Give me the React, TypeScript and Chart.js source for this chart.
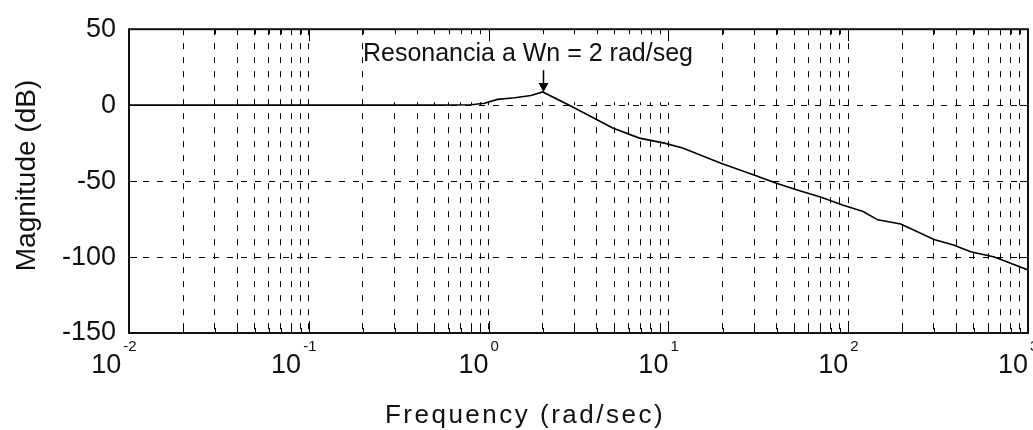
import { useEffect, useRef } from 'react';
import { Chart, registerables } from 'chart.js';

Chart.register(...registerables);

// ---- data ----
const frequencies = [0.01, 0.1, 0.5, 0.8, 0.95, 1.12, 1.4, 1.72, 2.0, 2.9, 4.9, 6.9, 9.5, 12, 19.6, 31, 39.5, 51, 70.8, 93, 121, 146, 196, 300, 385, 480, 650, 1000];
const magnitudes = [0, 0, 0, 0.3, 1.2, 3.8, 4.9, 6.4, 8.7, -0.9, -15, -21.7, -25, -28.2, -38.2, -46.6, -51.2, -55.6, -60.7, -65.7, -70, -75.5, -78.2, -88.5, -92, -96.5, -100, -108.5];

const decadeExponents = [-2, -1, 0, 1, 2, 3];
const minorMultipliers = [2, 3, 4, 5, 6, 7, 8, 9];
const yTickValues = [50, 0, -50, -100, -150];

const xAxisTitle = 'Frequency (rad/sec)';
const yAxisTitle = 'Magnitude (dB)';

const annotationText = 'Resonancia a Wn = 2 rad/seg';
const annotationFreq = 0.2;
const annotationDb = 29;
const resonanceFreq = 2;
const resonanceDb = 8.7;
const arrowTopDb = 23;

const FONT = '"Liberation Sans", Arial, sans-serif';
const TEXT = '#111';

const decadeValues = decadeExponents.map((e) => 10 ** e);
const xGridValues: number[] = [];
decadeExponents.forEach((e, i) => {
  xGridValues.push(10 ** e);
  if (i < decadeExponents.length - 1) minorMultipliers.forEach((m) => xGridValues.push(m * 10 ** e));
});

const overlay = {
  id: 'overlay',
  beforeDatasetsDraw(chart: any) {
    // blank label area behind the annotation (covers grid, not the curve)
    const { ctx, chartArea: a, scales } = chart;
    const x = scales.x;
    const y = scales.y;
    ctx.save();
    ctx.font = `25px ${FONT}`;
    const left = x.getPixelForValue(annotationFreq) + 1;
    const w = ctx.measureText(annotationText).width;
    ctx.fillStyle = '#fff';
    ctx.fillRect(left, a.top + 1, w + 18, y.getPixelForValue(0) - 3 - (a.top + 1));
    ctx.restore();
  },
  afterDraw(chart: any) {
    const { ctx, chartArea: a, scales } = chart;
    const x = scales.x;
    const y = scales.y;
    ctx.save();
    ctx.setLineDash([]);

    // inward ticks
    ctx.strokeStyle = '#000';
    ctx.lineWidth = 1;
    ctx.beginPath();
    for (const v of xGridValues) {
      const px = Math.round(x.getPixelForValue(v)) + 0.5;
      const major = decadeValues.some((d) => Math.abs(d - v) < 1e-9);
      const len = major ? 12 : 5;
      ctx.moveTo(px, a.bottom);
      ctx.lineTo(px, a.bottom - len);
      ctx.moveTo(px, a.top);
      ctx.lineTo(px, a.top + len);
    }
    for (const v of yTickValues) {
      const py = Math.round(y.getPixelForValue(v)) + 0.5;
      ctx.moveTo(a.left, py);
      ctx.lineTo(a.left + 8, py);
      ctx.moveTo(a.right, py);
      ctx.lineTo(a.right - 8, py);
    }
    ctx.stroke();

    // box
    ctx.lineWidth = 2;
    ctx.strokeStyle = '#111';
    ctx.strokeRect(a.left, a.top, a.right - a.left, a.bottom - a.top);

    // x tick labels: 10 with exponent
    ctx.fillStyle = TEXT;
    ctx.textBaseline = 'alphabetic';
    for (const e of decadeExponents) {
      const px = x.getPixelForValue(10 ** e);
      const expStr = e < 0 ? '-' + Math.abs(e) : String(e);
      ctx.font = `15px ${FONT}`;
      const ew = ctx.measureText(expStr).width;
      const expLeft = e < 0 ? px + 1 - ew / 2 : px + 2;
      ctx.textAlign = 'left';
      ctx.fillText(expStr, expLeft, a.bottom + 18);
      ctx.font = `27px ${FONT}`;
      ctx.textAlign = 'right';
      ctx.fillText('10', expLeft - 2, a.bottom + 40);
    }

    // x axis title
    ctx.font = `26px ${FONT}`;
    (ctx as any).letterSpacing = '2.5px';
    ctx.textAlign = 'center';
    ctx.fillText(xAxisTitle, 525, 423);
    (ctx as any).letterSpacing = '0px';

    // y axis title
    ctx.save();
    ctx.translate(27, 175.5);
    ctx.rotate(-Math.PI / 2);
    ctx.font = `28px ${FONT}`;
    ctx.textAlign = 'center';
    ctx.textBaseline = 'middle';
    ctx.fillText(yAxisTitle, 0, 0);
    ctx.restore();

    // annotation text
    ctx.font = `25px ${FONT}`;
    ctx.textAlign = 'left';
    ctx.textBaseline = 'alphabetic';
    ctx.fillText(annotationText, x.getPixelForValue(annotationFreq), y.getPixelForValue(annotationDb));

    // arrow
    const ax = Math.round(x.getPixelForValue(resonanceFreq)) + 0.5;
    const tip = y.getPixelForValue(resonanceDb);
    const top = y.getPixelForValue(arrowTopDb);
    ctx.strokeStyle = '#000';
    ctx.lineWidth = 1.5;
    ctx.beginPath();
    ctx.moveTo(ax, top);
    ctx.lineTo(ax, tip - 6);
    ctx.stroke();
    ctx.fillStyle = '#000';
    ctx.beginPath();
    ctx.moveTo(ax, tip);
    ctx.lineTo(ax - 5, tip - 9);
    ctx.lineTo(ax + 5, tip - 9);
    ctx.closePath();
    ctx.fill();

    ctx.restore();
  },
};

export default function App() {
  const ref = useRef<HTMLCanvasElement | null>(null);

  useEffect(() => {
    if (!ref.current) return;
    const chart = new Chart(ref.current, {
      type: 'line',
      data: {
        datasets: [
          {
            data: frequencies.map((f, i) => ({ x: f, y: magnitudes[i] })),
            borderColor: '#000',
            borderWidth: 1.6,
            pointRadius: 0,
            tension: 0,
            fill: false,
          },
        ],
      },
      options: {
        animation: false,
        responsive: false,
        devicePixelRatio: 1,
        layout: { padding: { top: 25, right: 5, left: 0, bottom: 0 } },
        plugins: {
          legend: { display: false },
          tooltip: { enabled: false },
          title: { display: false },
        },
        scales: {
          x: {
            type: 'logarithmic',
            min: 0.01,
            max: 1000,
            afterBuildTicks: (scale: any) => {
              scale.ticks = xGridValues.map((v) => ({ value: v }));
            },
            afterFit: (scale: any) => {
              scale.height = 97;
            },
            ticks: { display: false },
            grid: { color: '#000', lineWidth: 1, drawTicks: false, borderDash: [6, 8] } as any,
            border: { display: false, dash: [6, 8] },
          },
          y: {
            type: 'linear',
            min: -150,
            max: 50,
            afterFit: (scale: any) => {
              scale.width = 129;
            },
            ticks: {
              stepSize: 50,
              padding: 13,
              color: TEXT,
              font: { family: FONT, size: 27 },
            },
            grid: { color: '#000', lineWidth: 1, drawTicks: false, borderDash: [6, 8] } as any,
            border: { display: false, dash: [6, 8] },
          },
        },
      },
      plugins: [overlay],
    } as any);
    return () => chart.destroy();
  }, []);

  return (
    <div style={{ position: 'fixed', left: 0, top: 0, width: 1033, height: 430, background: '#fff' }}>
      <canvas ref={ref} width={1033} height={430} style={{ display: 'block', width: 1033, height: 430 }} />
    </div>
  );
}
